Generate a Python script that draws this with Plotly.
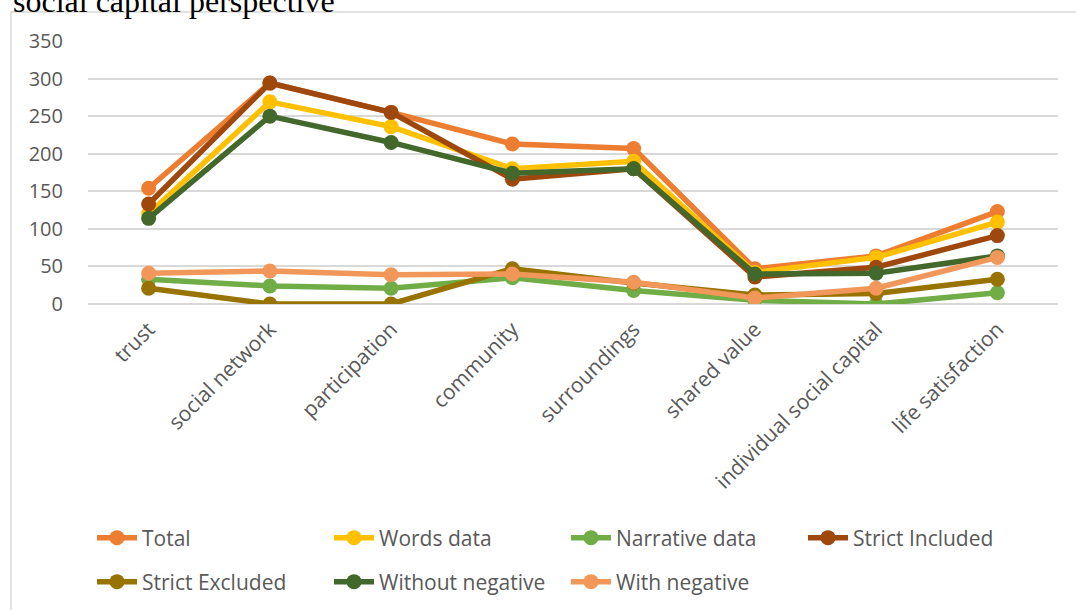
import plotly.graph_objects as go

categories = ["trust", "social network", "participation", "community", "surroundings",
              "shared value", "individual social capital", "life satisfaction"]

total = [154, 294, 255, 213, 207, 47, 64, 123]
words_data = [120, 269, 236, 180, 190, 42, 62, 109]
narrative_data = [33, 24, 21, 35, 18, 5, 0, 15]
strict_included = [133, 294, 255, 166, 180, 36, 49, 91]
strict_excluded = [21, 0, 0, 47, 28, 12, 14, 33]
without_negative = [114, 250, 215, 174, 180, 40, 41, 64]
with_negative = [41, 44, 39, 40, 29, 8, 21, 62]

series = [
    ("Total", total, "#ED7D31", "legend"),
    ("Words data", words_data, "#FFC000", "legend"),
    ("Narrative data", narrative_data, "#70AD47", "legend"),
    ("Strict Included", strict_included, "#9E480E", "legend"),
    ("Strict Excluded", strict_excluded, "#997300", "legend2"),
    ("Without negative", without_negative, "#43682B", "legend2"),
    ("With negative", with_negative, "#F1975A", "legend2"),
]

fig = go.Figure()
for name, vals, color, lg in series:
    fig.add_trace(go.Scatter(
        x=categories, y=vals, name=name, mode="lines+markers",
        line=dict(color=color, width=5.5),
        marker=dict(color=color, size=15),
        legend=lg,
    ))

W, H = 1076, 610
L, R, T, B = 88, 18, 41, 306
pw, ph = W - L - R, H - T - B

def px_x(p):
    return (p - L) / pw

def px_y(p):
    return (H - B - p) / ph

font_main = "Open Sans"
tick_color = "#595959"

legend_common = dict(
    orientation="h", xanchor="left", yanchor="middle",
    font=dict(family=font_main, size=21, color=tick_color),
    entrywidth=182, entrywidthmode="pixels",
    bgcolor="rgba(0,0,0,0)", itemwidth=40,
)

fig.update_layout(
    width=W, height=H,
    margin=dict(l=L, r=R, t=T, b=B, autoexpand=False),
    paper_bgcolor="white", plot_bgcolor="white",
    xaxis=dict(
        type="category", tickangle=-45, showgrid=False, showline=False,
        ticks="", tickfont=dict(family=font_main, size=21, color=tick_color),
        range=[-0.5, len(categories) - 0.5], ticklabelstandoff=8,
    ),
    yaxis=dict(
        range=[0, 350], dtick=50, showgrid=True, gridcolor="#D9D9D9", gridwidth=1.5,
        zeroline=True, zerolinecolor="#D9D9D9", zerolinewidth=1.5, showline=False,
        tickfont=dict(family=font_main, size=20, color=tick_color), ticks="",
        ticklabelstandoff=24,
    ),
    legend=dict(x=px_x(92), y=px_y(538), **legend_common),
    legend2=dict(x=px_x(92), y=px_y(582), **legend_common),
    showlegend=True,
    shapes=[dict(type="rect", xref="paper", yref="paper",
                 x0=px_x(11), x1=px_x(1090), y0=px_y(640), y1=px_y(12),
                 line=dict(color="#D9D9D9", width=1.5), fillcolor="rgba(0,0,0,0)",
                 layer="below")],
    annotations=[dict(text="social capital perspective", xref="paper", yref="paper",
                      x=px_x(11), y=px_y(21), xanchor="left", yanchor="bottom",
                      showarrow=False,
                      font=dict(family="Liberation Serif", size=32, color="black"))],
)

fig.write_html("out.html")
